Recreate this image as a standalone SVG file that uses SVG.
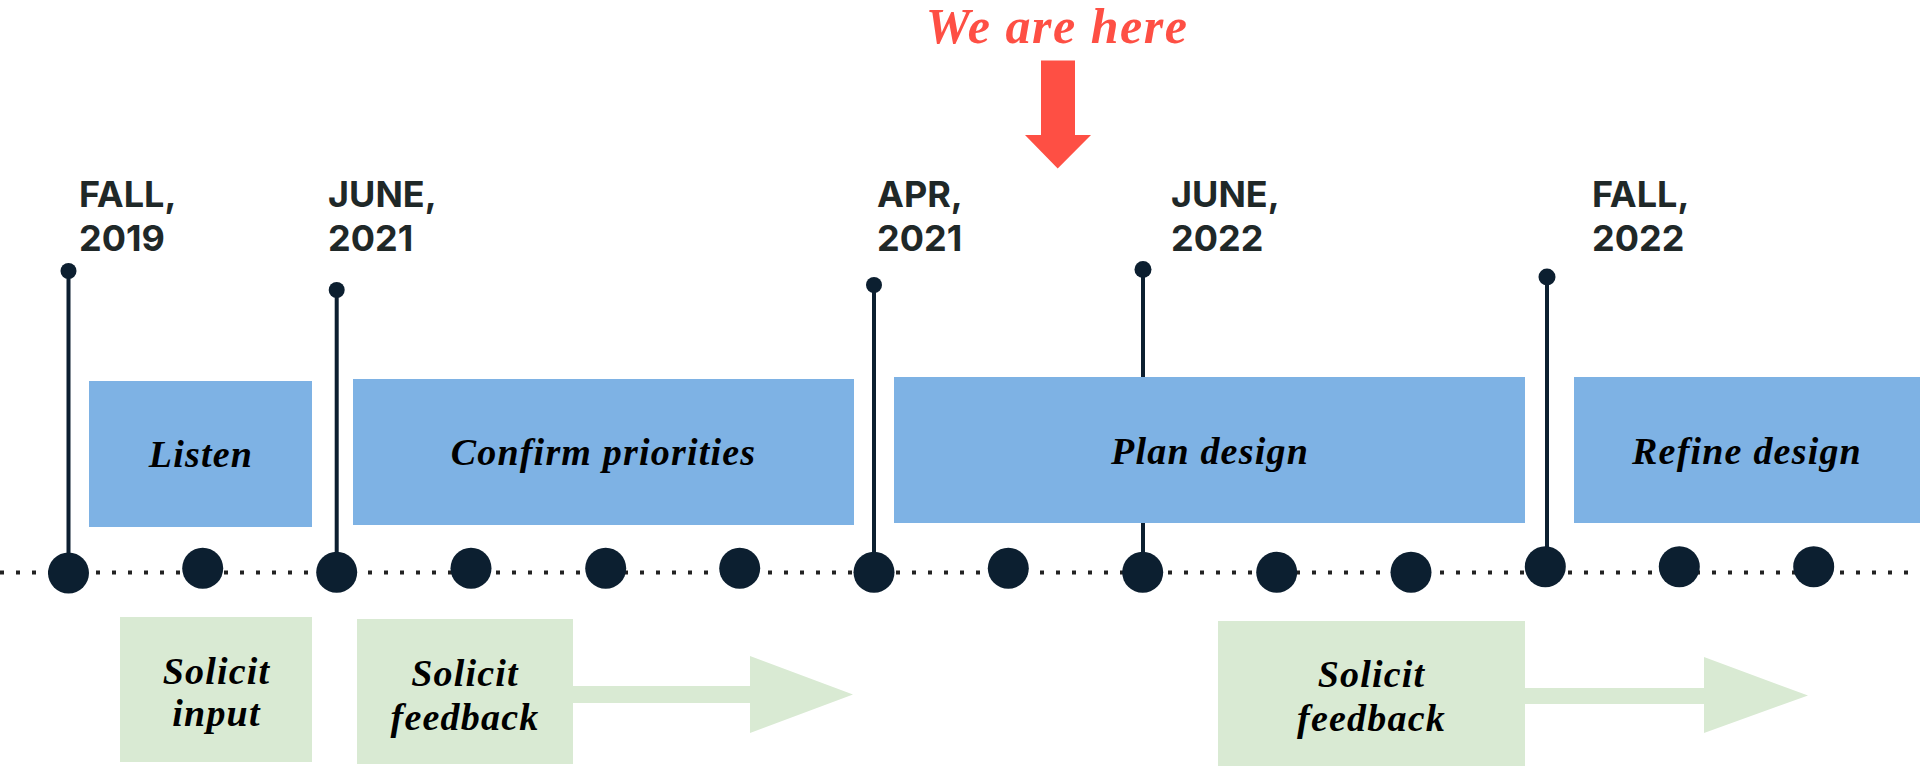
<svg xmlns="http://www.w3.org/2000/svg" width="1920" height="768" viewBox="0 0 1920 768">
  <style>
    .date { font-family: Inter, "DejaVu Sans", sans-serif; font-weight: 700; font-size: 36px; fill: #1f2828; }
    .phase { font-family: "Liberation Serif", serif; font-weight: 700; font-style: italic; font-size: 38px; fill: #000; text-anchor: middle; letter-spacing: 1.2px; }
    .blue { fill: #7eb2e4; }
    .green { fill: #d9ead3; }
    .stem { stroke: #0c1f30; stroke-width: 4; }
    .dot { fill: #0c1f30; }
  </style>
  <rect width="1920" height="768" fill="#ffffff"/>

  <g id="connectors">
    <line id="timeline" x1="0" y1="572.5" x2="1912" y2="572.5" stroke="#222222" stroke-width="4" stroke-dasharray="4 12"/>
    <path id="arrow-feedback-1" class="green" d="M573 686 L750 686 L750 656 L853 694.5 L750 733 L750 703 L573 703 Z"/>
    <path id="arrow-feedback-2" class="green" d="M1525 688 L1704 688 L1704 657 L1808 695.5 L1704 733 L1704 704 L1525 704 Z"/>
  </g>

  <g id="milestone-fall-2019">
    <line class="stem" x1="68.5" y1="271" x2="68.5" y2="572"/>
    <circle class="dot" cx="68.5" cy="271" r="8"/>
    <circle class="dot" cx="68.5" cy="573" r="20.5"/>
    <text class="date" x="79" y="207">FALL,</text>
    <text class="date" x="79" y="251">2019</text>
  </g>
  <g id="milestone-june-2021">
    <line class="stem" x1="336.7" y1="290" x2="336.7" y2="572"/>
    <circle class="dot" cx="336.7" cy="290" r="8"/>
    <circle class="dot" cx="336.7" cy="572.3" r="20.5"/>
    <text class="date" x="328" y="207">JUNE,</text>
    <text class="date" x="328" y="251">2021</text>
  </g>
  <g id="milestone-apr-2021">
    <line class="stem" x1="874" y1="285" x2="874" y2="572"/>
    <circle class="dot" cx="874" cy="285" r="8"/>
    <circle class="dot" cx="874" cy="572.3" r="20.5"/>
    <text class="date" x="877" y="207">APR,</text>
    <text class="date" x="877" y="251">2021</text>
  </g>
  <g id="milestone-june-2022">
    <line class="stem" x1="1143" y1="269.5" x2="1143" y2="572"/>
    <circle class="dot" cx="1143" cy="269.5" r="8.5"/>
    <text class="date" x="1171" y="207">JUNE,</text>
    <text class="date" x="1171" y="251">2022</text>
  </g>
  <g id="milestone-fall-2022">
    <line class="stem" x1="1547" y1="277" x2="1547" y2="566"/>
    <circle class="dot" cx="1547" cy="277" r="8.5"/>
    <circle class="dot" cx="1545.3" cy="566.7" r="20.5"/>
    <text class="date" x="1592" y="207">FALL,</text>
    <text class="date" x="1592" y="251">2022</text>
  </g>

  <g id="phase-listen">
    <rect class="blue" x="89" y="381" width="223" height="146"/>
    <text class="phase" x="201" y="466.5">Listen</text>
  </g>
  <g id="phase-confirm-priorities">
    <rect class="blue" x="353" y="379" width="501" height="146"/>
    <text class="phase" x="603.5" y="465">Confirm priorities</text>
  </g>
  <g id="phase-plan-design">
    <rect class="blue" x="894" y="377" width="631" height="146"/>
    <text class="phase" x="1210" y="463.5">Plan design</text>
  </g>
  <g id="phase-refine-design">
    <rect class="blue" x="1574" y="377" width="346" height="146"/>
    <text class="phase" x="1747" y="464">Refine design</text>
  </g>

  <g id="timeline-dots">
    <circle class="dot" cx="202.7" cy="568.3" r="20.5"/>
    <circle class="dot" cx="471" cy="568.3" r="20.5"/>
    <circle class="dot" cx="605.7" cy="568.3" r="20.5"/>
    <circle class="dot" cx="739.7" cy="568.3" r="20.5"/>
    <circle class="dot" cx="1008.3" cy="568.3" r="20.5"/>
    <circle class="dot" cx="1142.7" cy="572.3" r="20.5"/>
    <circle class="dot" cx="1276.7" cy="572.3" r="20.5"/>
    <circle class="dot" cx="1411" cy="572.3" r="20.5"/>
    <circle class="dot" cx="1679.3" cy="566.7" r="20.5"/>
    <circle class="dot" cx="1813.7" cy="566.7" r="20.5"/>
  </g>

  <g id="task-solicit-input">
    <rect class="green" x="120" y="617" width="192" height="145"/>
    <text class="phase" x="216.5" y="684">Solicit</text>
    <text class="phase" x="216.5" y="726">input</text>
  </g>
  <g id="task-solicit-feedback-1">
    <rect class="green" x="357" y="619" width="216" height="145"/>
    <text class="phase" x="465" y="685.5">Solicit</text>
    <text class="phase" x="465" y="729.5">feedback</text>
  </g>
  <g id="task-solicit-feedback-2">
    <rect class="green" x="1218" y="621" width="307" height="145"/>
    <text class="phase" x="1371.5" y="687">Solicit</text>
    <text class="phase" x="1371.5" y="731">feedback</text>
  </g>

  <g id="we-are-here">
    <text x="1057" y="42.5" text-anchor="middle" font-family="'Liberation Serif', serif" font-weight="700" font-style="italic" font-size="50" letter-spacing="1.5" fill="#fe4f44">We are here</text>
    <path d="M1041 60.5 L1075 60.5 L1075 135 L1091 135 L1057.7 168.5 L1025 135 L1041 135 Z" fill="#fe4f44"/>
  </g>
</svg>
